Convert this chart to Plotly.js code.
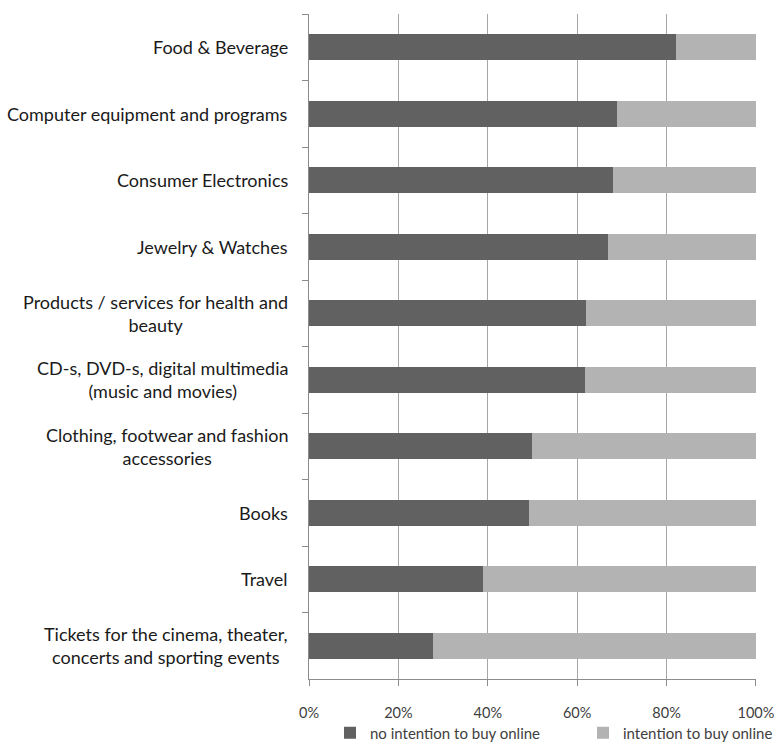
<!DOCTYPE html>
<html>
<head>
<meta charset="utf-8">
<script src="https://cdn.plot.ly/plotly-3.0.1.min.js"></script>
<style>
  html, body { margin: 0; padding: 0; background: #ffffff; }
  #chart { width: 777px; height: 744px; }
</style>
</head>
<body>
<div id="chart"></div>
<script>
// Categories, top to bottom
const categories = [
  "Food & Beverage",
  "Computer equipment and programs",
  "Consumer Electronics",
  "Jewelry & Watches",
  "Products / services for health and<br>beauty",
  "CD-s, DVD-s, digital multimedia<br>(music and movies)",
  "Clothing, footwear and fashion<br>accessories",
  "Books",
  "Travel",
  "Tickets for the cinema, theater,<br>concerts and sporting events"
];
// Shares (fraction of respondents)
const noIntention = [0.82, 0.69, 0.68, 0.67, 0.62, 0.617, 0.498, 0.492, 0.39, 0.278];
const intention   = [0.18, 0.31, 0.32, 0.33, 0.38, 0.383, 0.502, 0.508, 0.61, 0.722];
const seriesNames = ["no intention to buy online", "intention to buy online"];
const xTickVals = [0, 0.2, 0.4, 0.6, 0.8, 1.0];
const xTickText = ["0%", "20%", "40%", "60%", "80%", "100%"];

const FONT = "Lato, 'Open Sans', sans-serif";

const traces = [
  {
    type: "bar", orientation: "h", name: seriesNames[0],
    y: categories, x: noIntention, legend: "legend",
    marker: { color: "#616161" }, hoverinfo: "x+y"
  },
  {
    type: "bar", orientation: "h", name: seriesNames[1],
    y: categories, x: intention, legend: "legend2",
    marker: { color: "#b3b3b3" }, hoverinfo: "x+y"
  }
];

const annotations = categories.map(c => ({
  xref: "paper", yref: "y", x: 0, y: c,
  xanchor: "right", yanchor: "middle", xshift: -19,
  text: c, showarrow: false, align: "center",
  font: { family: FONT, size: 18, color: "#1a1a1a" }
}));

const legendFont = { family: FONT, size: 15, color: "#404040" };

const layout = {
  width: 777, height: 744,
  margin: { l: 309, r: 21, t: 14, b: 65, autoexpand: false },
  paper_bgcolor: "#ffffff", plot_bgcolor: "#ffffff",
  barmode: "stack", bargap: 0.61,
  showlegend: true,
  legend: {
    orientation: "h", xref: "container", x: 330 / 777, xanchor: "left",
    yref: "container", y: 11 / 744, yanchor: "middle",
    font: legendFont, bgcolor: "rgba(0,0,0,0)"
  },
  legend2: {
    orientation: "h", xref: "container", x: 583 / 777, xanchor: "left",
    yref: "container", y: 11 / 744, yanchor: "middle",
    font: legendFont, bgcolor: "rgba(0,0,0,0)"
  },
  xaxis: {
    range: [0, 1.0001], tickvals: xTickVals, ticktext: xTickText,
    showgrid: true, gridcolor: "#a6a6a6", gridwidth: 1,
    showline: true, linecolor: "#8c8c8c", linewidth: 1,
    ticks: "outside", ticklen: 6, tickcolor: "#8c8c8c",
    ticklabelstandoff: 15,
    tickfont: { family: FONT, size: 14.5, color: "#404040" },
    zeroline: false, fixedrange: true
  },
  yaxis: {
    type: "category", categoryorder: "array", categoryarray: categories,
    autorange: "reversed",
    showticklabels: false, showgrid: false,
    showline: true, linecolor: "#8c8c8c", linewidth: 1,
    ticks: "outside", ticklen: 6, tickcolor: "#8c8c8c",
    tickson: "boundaries", zeroline: false, fixedrange: true
  },
  annotations: annotations
};

Plotly.newPlot("chart", traces, layout, { staticPlot: true, displayModeBar: false });
</script>
</body>
</html>
